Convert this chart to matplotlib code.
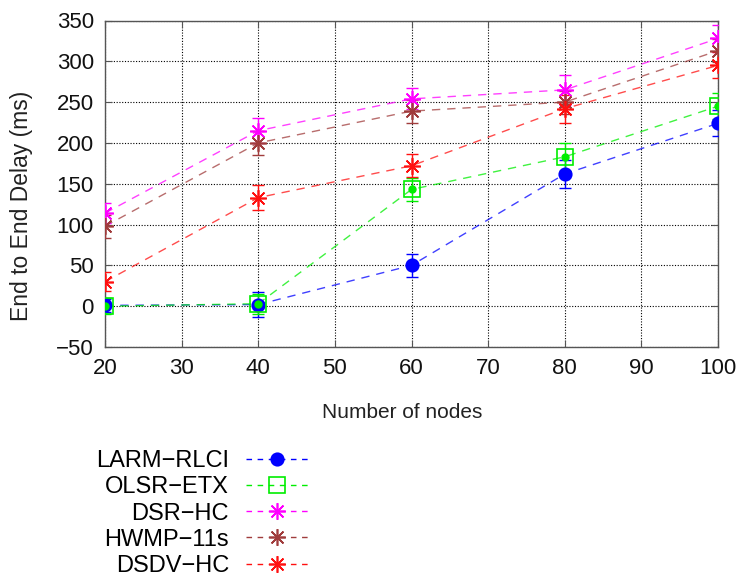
import matplotlib
matplotlib.use("Agg")
import matplotlib.pyplot as plt
from matplotlib.lines import Line2D

plt.rcParams['font.family'] = ['Liberation Sans', 'DejaVu Sans']

nodes = [20, 40, 60, 80, 100]

larm = [1, 2, 50, 162, 224]
larm_err = [8, 15, 14, 17, 16]
olsr = [0, 3, 143, 183, 245]
olsr_err = [10, 12, 14, 17, 16]
dsr = [114, 215, 254, 265, 328]
dsr_err = [12, 15, 13, 18, 16]
hwmp = [98, 200, 239, 250, 313]
hwmp_err = [14, 15, 14, 14, 14]
dsdv = [30, 133, 172, 242, 295]
dsdv_err = [12, 15, 14, 17, 16]

labels = ['LARM\u2212RLCI', 'OLSR\u2212ETX', 'DSR\u2212HC', 'HWMP\u221211s', 'DSDV\u2212HC']
colors = ['#0000ff', '#00ee00', '#ff00ff', '#a03c3c', '#ff1010']
markers = ['o', 's', (8, 2, 0), (8, 2, 0), (8, 2, 0)]
msizes = [9, 11, 12, 12, 12]
mfcs = ['#0000ff', 'none', 'none', 'none', 'none']

series = [larm, olsr, dsr, hwmp, dsdv]
errs = [larm_err, olsr_err, dsr_err, hwmp_err, dsdv_err]

yticks = [-50, 0, 50, 100, 150, 200, 250, 300, 350]
xticks = [20, 30, 40, 50, 60, 70, 80, 90, 100]

fig = plt.figure(figsize=(7.45, 5.83), dpi=100)
ax = fig.add_axes([105/745, 1-347/583, (718-105)/745, (347-20.5)/583])

dash = (0, (6, 5))
handles = []
for vals, err, c, m, ms, mfc, lab in zip(series, errs, colors, markers, msizes, mfcs, labels):
    ax.errorbar(nodes, vals, yerr=err, fmt='none', ecolor=c, elinewidth=1.0,
                capsize=4, capthick=1.0, zorder=3)
    ax.plot(nodes, vals, color=c, lw=1.0, ls=dash, alpha=0.75, zorder=2)
    ax.plot(nodes, vals, ls='none', marker=m, ms=ms, mfc=mfc, mec=c, mew=1.2, zorder=4)
    handles.append(Line2D([], [], color=c, lw=1.0, ls=(0, (4, 4)), marker=m, ms=ms,
                          mfc=mfc, mec=c, mew=1.2, alpha=1.0))

# filled dots inside OLSR squares
ax.plot(nodes, olsr, ls='none', marker='o', ms=5, color='#00ee00', zorder=5)

ax.set_xlim(20, 100)
ax.set_ylim(-50, 350)
ax.set_xticks(xticks)
ax.set_yticks(yticks)
ax.tick_params(labelsize=16, direction='in', length=5, width=0.8, colors='#555555',
               labelcolor='#111111', top=True, right=True, pad=8)
ax.grid(True, color='black', ls=(0, (1, 1.5)), lw=0.8)
for s in ax.spines.values():
    s.set_color('#555555')
    s.set_linewidth(1.0)

fig.text(402/745, 1-412/583, 'Number of nodes', fontsize=15, color='#222222',
         ha='center', va='center')
fig.text(22/745, 1-206/583, 'End to End Delay (ms)', fontsize=16.5, color='#222222',
         ha='center', va='center', rotation=90)

leg = fig.legend(handles=handles, labels=labels, loc='upper left',
                 bbox_to_anchor=(96/745, 1-450/583), frameon=False, markerfirst=False,
                 fontsize=17, handlelength=2.7, handletextpad=0.7, labelspacing=0.18,
                 borderpad=0, borderaxespad=0)

fig.savefig('out.png', dpi=100)
